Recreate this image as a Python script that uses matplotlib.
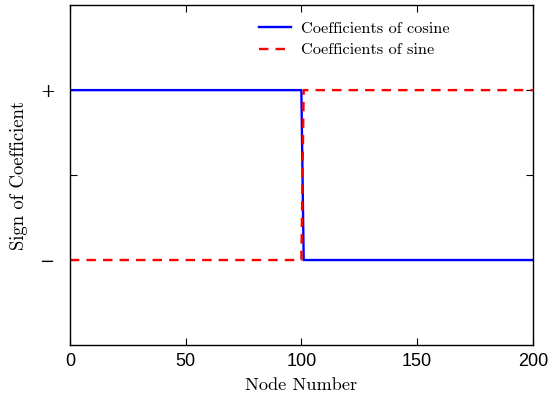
import matplotlib
matplotlib.use("Agg")
import matplotlib.pyplot as plt
import numpy as np

# node numbers and coefficient signs (+1 / -1)
nodes = np.arange(0, 201)
cos_sign = np.where(nodes <= 100, 1, -1)
sin_sign = np.where(nodes <= 100, -1, 1)

ytick_vals = [-1, 0, 1]
ytick_labels = ["\u2212", "", "+"]

fig = plt.figure(figsize=(5.55, 3.97), dpi=100)
ax = fig.add_axes([0.126, 0.131, 0.834, 0.856])

ax.plot(nodes, cos_sign, color="blue", lw=1.7, label="Coefficients of cosine")
ax.plot(nodes, sin_sign, color="red", lw=1.7, ls=(0, (4, 3)), label="Coefficients of sine")

ax.set_xlim(0, 200)
ax.set_ylim(-2, 2)
ax.set_xticks([0, 50, 100, 150, 200])
ax.set_yticks(ytick_vals)
ax.set_yticklabels(ytick_labels, fontfamily="DejaVu Serif", fontsize=13)
for t in ax.get_xticklabels():
    t.set_fontfamily("Liberation Sans")
    t.set_fontsize(13)

ax.tick_params(direction="in", top=True, right=True, length=5, width=0.8, pad=6)
ax.tick_params(axis="y", pad=11)
for s in ax.spines.values():
    s.set_linewidth(1.0)

ax.set_xlabel("Node Number", fontfamily="cmr10", fontsize=13.2, labelpad=5)
ax.set_ylabel("Sign of Coefficient", fontfamily="cmr10", fontsize=13.5, labelpad=8)

leg = ax.legend(loc="upper left", bbox_to_anchor=(0.408, 0.953), frameon=False,
                prop={"family": "cmr10", "size": 11.75}, borderpad=0, borderaxespad=0,
                handlelength=2.0, handletextpad=0.6, labelspacing=0.45)

fig.savefig("out.png", dpi=100)
